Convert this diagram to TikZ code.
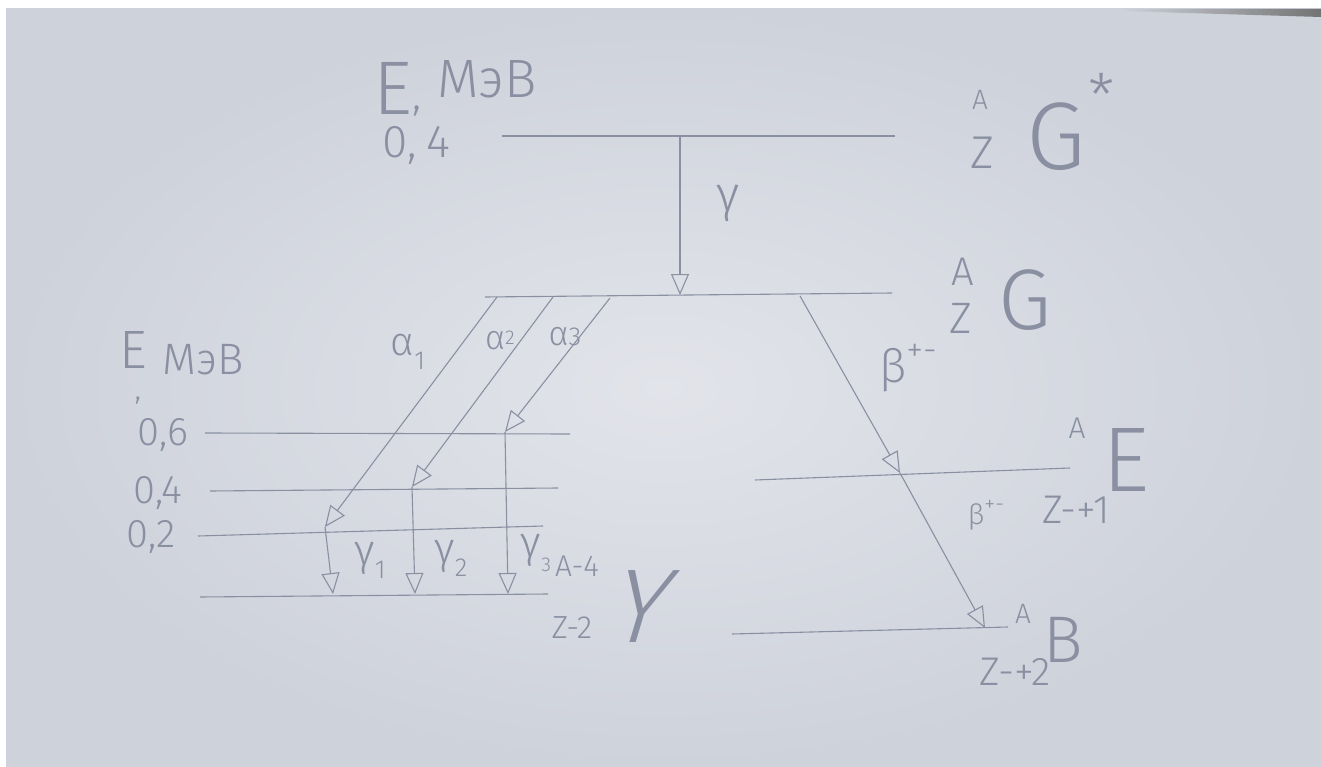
\documentclass[tikz,border=0pt]{standalone}
\usepackage{fontspec}
\setmainfont{Fira Sans}[UprightFont=* Light]
\usetikzlibrary{arrows.meta}
\definecolor{paper}{RGB}{226,228,234}
\definecolor{paperedge}{RGB}{206,210,219}
\definecolor{pencil}{RGB}{138,144,162}
\newcommand\fsz[1]{\fontsize{#1}{#1}\selectfont}
\begin{document}
\begin{tikzpicture}[x=1pt,y=-1pt,
  lvl/.style={draw=pencil,line width=1.1pt},
  tr/.style={draw=pencil,line width=1.1pt,-{Triangle[open,length=21pt,width=18pt,line width=1.1pt]}},
  lab/.style={text=pencil,inner sep=0pt,anchor=center},
  nodepth/.style={text depth=0pt}]
\useasboundingbox (0,0) rectangle (1321,767);
\fill[white] (0,0) rectangle (1321,767);
\shade[inner color=paper,outer color=paperedge] (6,9) rectangle (1321,767);
\shade[left color=paperedge,right color=black!55] (1120,9) -- (1321,9) -- (1321,17) -- (1120,11) -- cycle;

% ---- levels ----
\coordinate (t1) at (502,136);   \coordinate (t2) at (895,136);
\coordinate (g1) at (485,297);   \coordinate (g2) at (892,293);
\coordinate (a6l) at (205,433);  \coordinate (a6r) at (570,434);
\coordinate (a4l) at (210,491);  \coordinate (a4r) at (558,488);
\coordinate (a2l) at (198,536);  \coordinate (a2r) at (543,526);
\coordinate (a0l) at (200,597);  \coordinate (a0r) at (548,594);
\coordinate (el) at (755,480);   \coordinate (er) at (1070,468);
\coordinate (bl) at (732,634);   \coordinate (br) at (1008,627);
\draw[lvl] (t1) -- (t2);
\draw[lvl] (g1) -- (g2);
\draw[lvl] (a6l) -- (a6r);
\draw[lvl] (a4l) -- (a4r);
\draw[lvl] (a2l) -- (a2r);
\draw[lvl] (a0l) -- (a0r);
\draw[lvl] (el) -- (er);
\draw[lvl] (bl) -- (br);

% ---- transition end points ----
\coordinate (gs) at (680,136);  \coordinate (ge) at (680,295);
\coordinate (s1) at (497,297);  \coordinate (e1) at (325,527);
\coordinate (s2) at (553,297);  \coordinate (e2) at (412,487);
\coordinate (s3) at (610,298);  \coordinate (e3) at (505,432);
\coordinate (f1) at (333,594);  \coordinate (f2) at (415,594);  \coordinate (f3) at (508,594);
\coordinate (bs) at (800,296);  \coordinate (bm) at (900,473);  \coordinate (be) at (985,628);

\draw[tr] (gs) -- (ge);
\draw[tr] (s1) -- (e1);
\draw[tr] (s2) -- (e2);
\draw[tr] (s3) -- (e3);
\draw[tr] (e1) -- (f1);
\draw[tr] (e2) -- (f2);
\draw[tr] (e3) -- (f3);
\draw[tr] (bs) -- (bm);
\draw[tr] (bm) -- (be);

% ---- labels ----
\node[lab,nodepth,anchor=base west,font=\fsz{76}] (lE) at (373,115) {E};
\node[lab,anchor=base west,font=\fsz{44}] (lEc) at (412,110) {,};
\node[lab,anchor=base west,font=\fsz{54}] (lM) at (437,98) {МэВ};
\node[lab,anchor=base west,font=\fsz{46},text height=0.72em] (l04) at (382,158) {0,\hspace{10pt}4};

\node[lab,font=\fsz{28}] (tA) at (980,100) {A};
\node[lab,font=\fsz{46}] (tZ) at (982,153) {Z};
\node[lab,font=\fsz{96}] (tG) at (1056,137) {G};
\node[lab,font=\fsz{60}] (tS) at (1102,95) {*};

\node[lab,font=\fsz{40}] (mA) at (963,272) {A};
\node[lab,font=\fsz{44}] (mZ) at (961,318) {Z};
\node[lab,font=\fsz{86}] (mG) at (1025,300) {G};

\node[lab,font=\fsz{50}] (gl) at (728,203) {γ};

\node[lab,nodepth,font=\fsz{54}] (LE) at (133,350) {E};
\node[lab,font=\fsz{32},text height=0.3em] (Lc) at (138,400) {,};
\node[lab,font=\fsz{44}] (LM) at (203,360) {МэВ};
\node[lab,font=\fsz{40}] (L6) at (163,435) {0,6};
\node[lab,font=\fsz{40}] (L4) at (158,493) {0,4};
\node[lab,font=\fsz{40}] (L2) at (151,537) {0,2};

\node[lab,font=\fsz{40}] (al1) at (408,352) {α\raisebox{-0.35em}{\fsz{26}1}};
\node[lab,font=\fsz{34}] (al2) at (500,340) {α\raisebox{0.15em}{\fsz{20}2}};
\node[lab,font=\fsz{34}] (al3) at (565,337) {α\raisebox{0em}{\fsz{26}3}};

\node[lab,font=\fsz{44}] (g1l) at (370,560) {γ\raisebox{-0.3em}{\fsz{26}1}};
\node[lab,font=\fsz{44}] (g2l) at (451,558) {γ\raisebox{-0.3em}{\fsz{26}2}};
\node[lab,font=\fsz{44}] (g3l) at (536,553) {γ\raisebox{-0.3em}{\fsz{20}3}};

\node[lab,font=\fsz{30}] (yA) at (577,566) {A-4};
\node[lab,font=\fsz{32}] (yZ) at (572,628) {Z-2};
\node[lab,nodepth,font=\fsz{105},xslant=0.3,transform shape] (yY) at (644,607) {Y};

\node[lab,font=\fsz{46}] (b1) at (908,368) {β\raisebox{0.45em}{\fsz{34}+-}};
\node[lab,font=\fsz{30}] (eA) at (1077,428) {A};
\node[lab,font=\fsz{92}] (eE) at (1126,460) {E};
\node[lab,font=\fsz{40}] (eZ) at (1076,510) {Z-+1};
\node[lab,font=\fsz{28}] (b2) at (986,515) {β\raisebox{0.45em}{\fsz{22}+-}};

\node[lab,font=\fsz{28}] (BA) at (1023,614) {A};
\node[lab,font=\fsz{66}] (BB) at (1063,640) {B};
\node[lab,font=\fsz{40}] (BZ) at (1015,672) {Z-+2};
\end{tikzpicture}
\end{document}
